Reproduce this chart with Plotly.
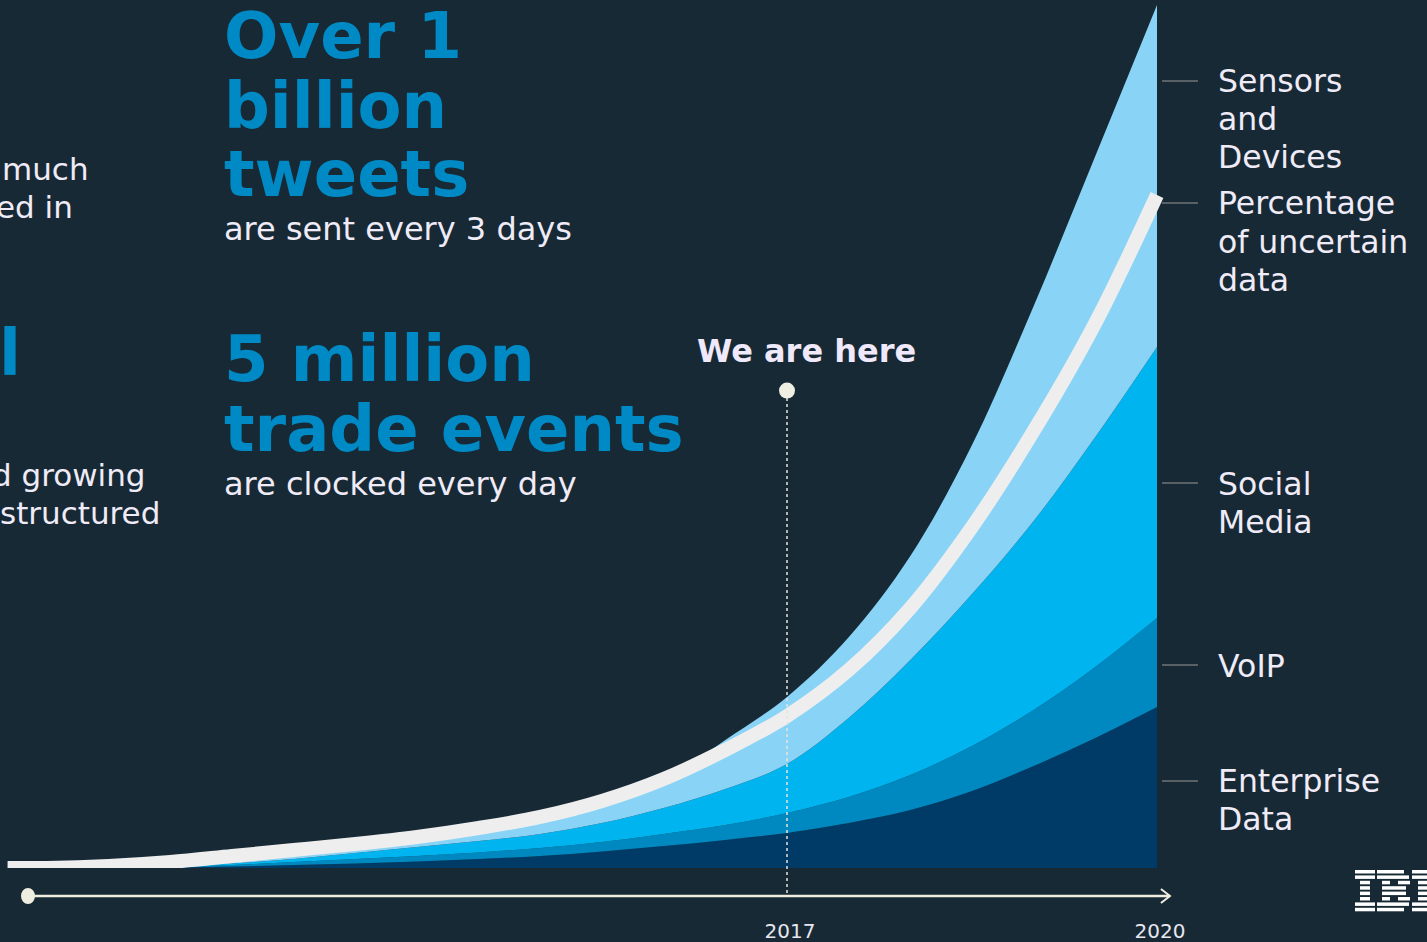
import plotly.graph_objects as go

# ---------------- data ----------------
years = [2010.68, 2011, 2011.5, 2012, 2012.5, 2013, 2013.5, 2014, 2014.5, 2015,
         2015.5, 2016, 2016.5, 2017, 2017.5, 2018, 2018.5, 2019, 2019.5, 2020]
enterprise = [0, 0, 0, 0.06, 0.17, 0.35, 0.52, 0.75, 1.04, 1.38,
              1.90, 2.53, 3.23, 4.03, 5.18, 6.68, 8.87, 11.75, 14.98, 18.55]
voip = [0, 0, 0, 0.055, 0.18, 0.34, 0.52, 0.63, 0.75, 0.92,
        1.09, 1.39, 1.72, 2.31, 3.00, 4.03, 5.19, 6.45, 8.18, 10.25]
social = [0, 0, 0, 0.055, 0.17, 0.35, 0.69, 1.04, 1.32, 1.62,
          2.19, 2.99, 4.15, 5.64, 9.10, 13.25, 17.51, 21.78, 26.49, 31.22]
sensors = [0, 0, 0, 0.06, 0.40, 0.46, 0.57, 0.68, 1.04, 1.48,
           2.07, 3.09, 5.65, 7.72, 9.30, 11.98, 17.16, 24.77, 32.38, 39.40]
uncertain = [0, 0, 0.23, 0.69, 1.38, 2.07, 2.76, 3.57, 4.61, 5.88,
             7.72, 10.25, 13.59, 17.51, 22.81, 29.95, 39.29, 50.35, 62.79, 77.53]

tick_years = [2017, 2020]
tick_labels = ["2017", "2020"]
here_year = 2017
here_level = 55
timeline_start = 2010.846
timeline_end = 2020.105

series = [
    ("Enterprise Data", enterprise, "#003b68"),
    ("VoIP", voip, "#0089c0"),
    ("Social Media", social, "#00b4ef"),
    ("Sensors and Devices", sensors, "#88d3f6"),
]

# ---------------- styling ----------------
W, H = 1427, 942
PLOT_B = 74               # bottom margin: baseline sits at pixel 868
PLOT_H = H - PLOT_B
BG = "#172935"
TXT = "#efebf7"
BLUE = "#008ac5"
GREY = "#596166"
CREAM = "#efede0"
FONT = "DejaVu Sans"


def px(x):
    return x / W


def py(y):
    return (PLOT_H - y) / PLOT_H


fig = go.Figure()

for name, vals, col in series:
    fig.add_trace(go.Scatter(
        x=years, y=vals, name=name, mode="lines", stackgroup="data",
        line=dict(width=0, color=col, shape="spline", smoothing=1.0),
        fillcolor=col, hoverinfo="skip", showlegend=False))

fig.add_trace(go.Scatter(
    x=years, y=uncertain, name="Percentage of uncertain data", mode="lines",
    line=dict(width=14, color="#eeeeee", shape="spline", smoothing=1.0),
    hoverinfo="skip", showlegend=False))

fig.add_trace(go.Scatter(
    x=[here_year], y=[here_level], mode="markers",
    marker=dict(size=16, color="#efeee2"), hoverinfo="skip", showlegend=False))

shapes = []
# dotted "we are here" line
shapes.append(dict(type="line", xref="x", yref="paper", x0=here_year, x1=here_year,
                   y0=py(893), y1=py(398), layer="above",
                   line=dict(color="#e6e4dc", width=1.5, dash="dot")))
# timeline
tl_y = py(896)
shapes.append(dict(type="line", xref="x", yref="paper", x0=timeline_start, x1=timeline_end,
                   y0=tl_y, y1=tl_y, line=dict(color=CREAM, width=2.5)))
shapes.append(dict(type="path", xref="x", yref="paper", xsizemode="pixel", ysizemode="pixel",
                   xanchor=timeline_end, yanchor=tl_y,
                   path="M -9,7 L 0,0 L -9,-7", line=dict(color=CREAM, width=2)))
shapes.append(dict(type="circle", xref="x", yref="paper", xsizemode="pixel", ysizemode="pixel",
                   xanchor=timeline_start, yanchor=tl_y, x0=-7, x1=7, y0=-8, y1=8,
                   fillcolor=CREAM, line=dict(width=0)))
# leader lines for labels
for ly in [81, 203, 483, 665, 781]:
    shapes.append(dict(type="line", xref="paper", yref="paper", x0=px(1162), x1=px(1198),
                       y0=py(ly), y1=py(ly), line=dict(color=GREY, width=2)))

# striped IBM logo (partly off the right edge), built from bars
logo_rows = [
    [(1355, 1375), (1377, 1404), (1412, 1427)],
    [(1355, 1375), (1377, 1409), (1412, 1427)],
    [(1360, 1370), (1382, 1390), (1398, 1410), (1418, 1427)],
    [(1360, 1370), (1382, 1406), (1418, 1427)],
    [(1360, 1370), (1382, 1406), (1418, 1427)],
    [(1360, 1370), (1382, 1390), (1398, 1410), (1418, 1427)],
    [(1355, 1375), (1377, 1409), (1412, 1427)],
    [(1355, 1375), (1377, 1404), (1412, 1427)],
]
for k, segs in enumerate(logo_rows):
    top = 870 + k * 5.4
    for a, b in segs:
        shapes.append(dict(type="rect", xref="paper", yref="paper", x0=px(a), x1=px(b),
                           y0=py(top + 3.5), y1=py(top), fillcolor="#ffffff",
                           line=dict(width=0)))

annotations = []


def text(t, x, y, size, color=TXT, bold=False, anchor="left", family=FONT):
    annotations.append(dict(
        text=f"<b>{t}</b>" if bold else t, xref="paper", yref="paper",
        x=px(x), y=py(y), xanchor=anchor, yanchor="middle", showarrow=False,
        font=dict(family=family, size=size, color=color)))


# headline block 1
text("Over 1", 222, 36, 64, BLUE, True)
text("billion", 222, 106, 64, BLUE, True)
text("tweets", 222, 174, 64, BLUE, True)
text("are sent every 3 days", 222, 229, 32)
# headline block 2
text("5 million", 222, 359, 64, BLUE, True)
text("trade events", 222, 429, 64, BLUE, True)
text("are clocked every day", 222, 484, 32)
# we are here
text("We are here", 806, 351, 32, "#efe9fb", True, anchor="center")
# left cut-off column
text("much", 91, 169, 31, anchor="right")
text("ed in", 75, 207, 31, anchor="right")
text("l", 23, 353, 64, BLUE, True, anchor="right")
text("d growing", 148, 475, 31, anchor="right")
text("structured", 162, 513, 31, anchor="right")
# right labels
for t, y in [("Sensors", 81), ("and", 119), ("Devices", 157),
             ("Percentage", 203), ("of uncertain", 242), ("data", 280),
             ("Social", 484), ("Media", 522), ("VoIP", 666),
             ("Enterprise", 781), ("Data", 819)]:
    text(t, 1216, y, 31.5)

fig.update_layout(
    width=W, height=H, margin=dict(l=0, r=0, t=0, b=PLOT_B),
    paper_bgcolor=BG, plot_bgcolor=BG, showlegend=False,
    shapes=shapes, annotations=annotations,
    xaxis=dict(range=[2010.6189, 2022.1892], tickvals=tick_years, ticktext=tick_labels,
               showgrid=False, zeroline=False, showline=False, ticks="",
               ticklabelstandoff=49, ticklabelshift=3,
               tickfont=dict(family=FONT, size=20, color="#e8e6ef"),
               fixedrange=True),
    yaxis=dict(range=[0, 100], visible=False, fixedrange=True),
)

fig.write_html("out.html", config={"displayModeBar": False},
               post_script="document.body.style.margin='0';document.body.style.overflow='hidden';")
